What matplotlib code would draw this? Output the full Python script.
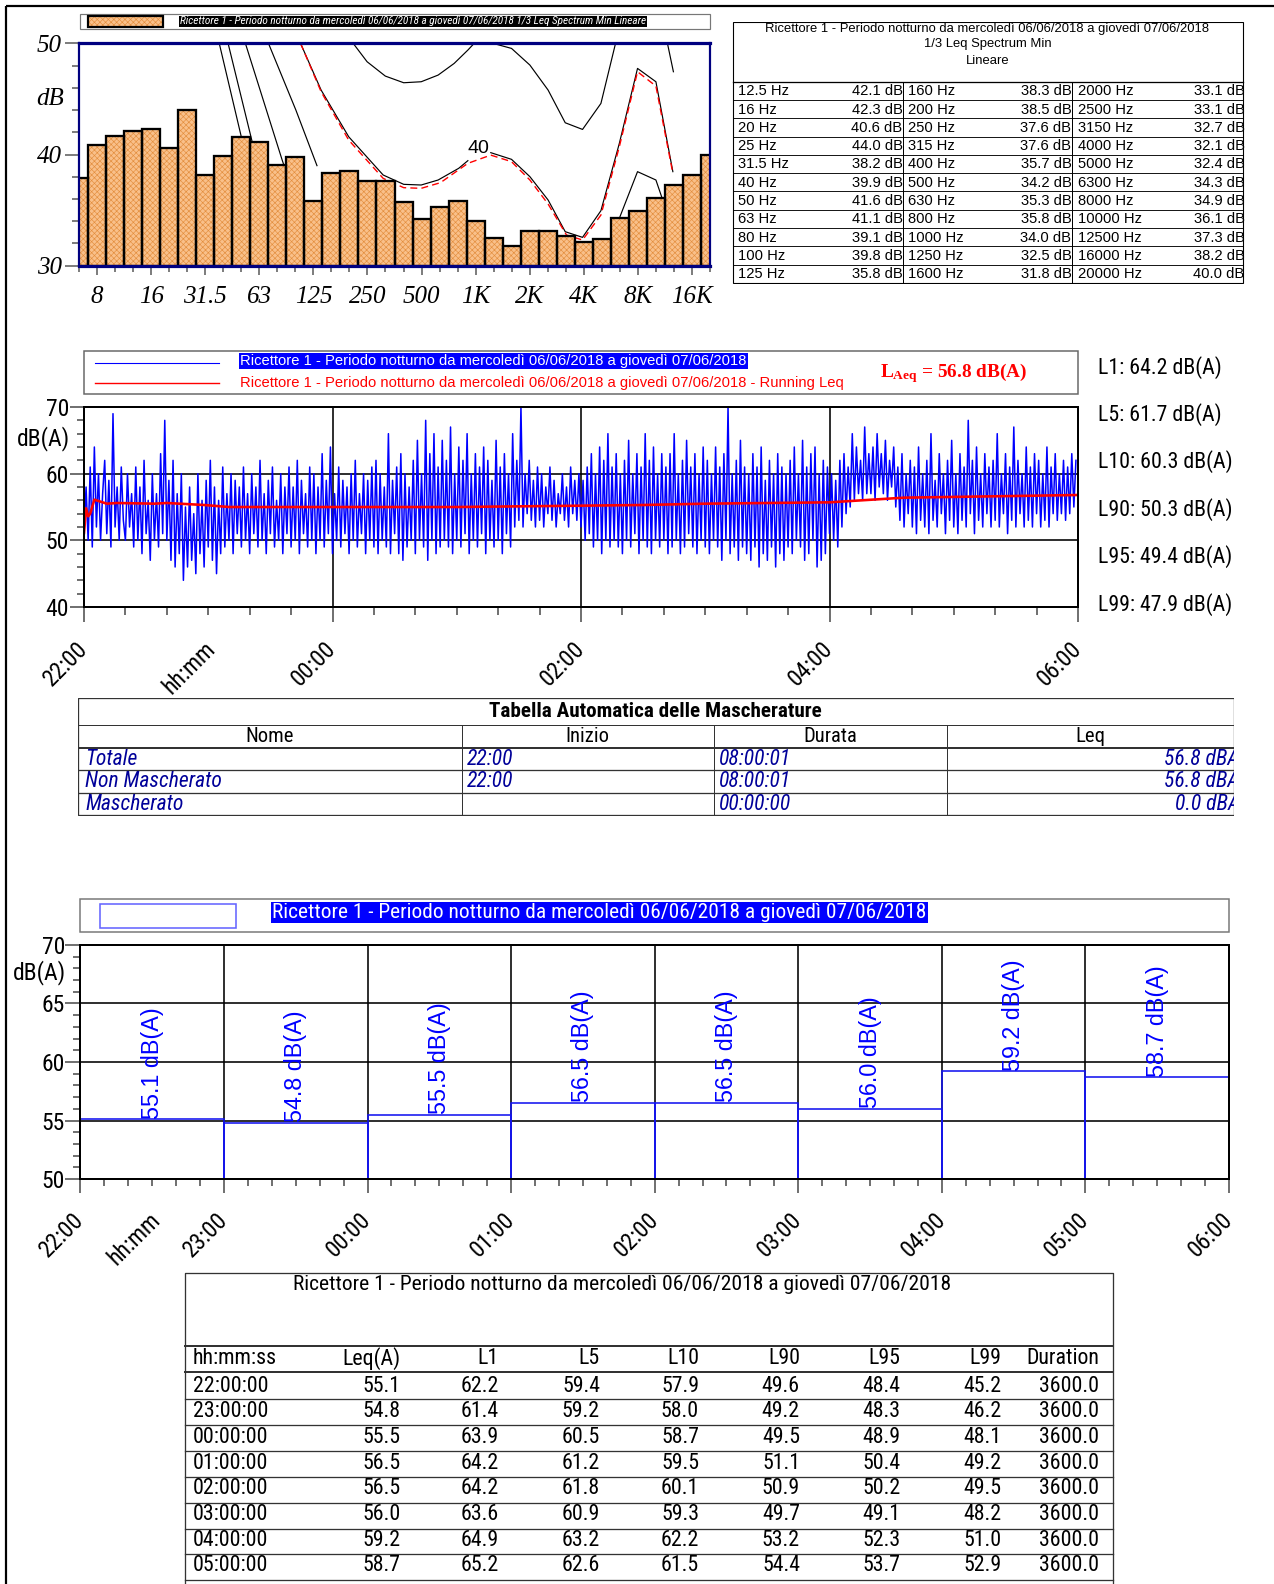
import os
import numpy as np
import matplotlib
matplotlib.use('Agg')
import matplotlib.pyplot as plt
from matplotlib import font_manager
from matplotlib.font_manager import FontProperties
from matplotlib.patches import Rectangle

# ---------------------------------------------------------------- data
title = 'Ricettore 1 - Periodo notturno da mercoledì 06/06/2018 a giovedì 07/06/2018'

spec_bands = ['6.3', '8', '10', '12.5', '16', '20', '25', '31.5', '40', '50', '63', '80',
              '100', '125', '160', '200', '250', '315', '400', '500', '630', '800', '1000',
              '1250', '1600', '2000', '2500', '3150', '4000', '5000', '6300', '8000',
              '10000', '12500', '16000', '20000']
spec_levels = [37.9, 40.9, 41.7, 42.1, 42.3, 40.6, 44.0, 38.2, 39.9, 41.6, 41.1, 39.1,
               39.8, 35.8, 38.3, 38.5, 37.6, 37.6, 35.7, 34.2, 35.3, 35.8, 34.0,
               32.5, 31.8, 33.1, 33.1, 32.7, 32.1, 32.4, 34.3, 34.9,
               36.1, 37.3, 38.2, 40.0]
spec_tick_bands = ['8', '16', '31.5', '63', '125', '250', '500', '1000', '2000', '4000', '8000', '16000']
spec_tick_labels = ['8', '16', '31.5', '63', '125', '250', '500', '1K', '2K', '4K', '8K', '16K']

# equal-loudness style curves (x in band index units, y in dB)
curve_a_x = [7.78, 8.98, 9.6];   curve_a_y = [50, 41.75, 37]
curve_b_x = [8.27, 9.56, 10.2];  curve_b_y = [50, 41.45, 37]
curve_c_x = [9.23, 11.27, 12.0]; curve_c_y = [50, 39.5, 36]
curve_d_x = [10.51, 12.03, 13.2]; curve_d_y = [50, 44.0, 39.0]
curve40_x = [12.29, 13.43, 14.96, 16.87, 18.01, 18.98, 19.92, 21.06, 21.57, np.nan,
             22.84, 23.99, 25.01, 26.02, 26.97, 27.93, 28.95, 29.97, 30.98, 32.00, 32.94]
curve40_y = [50, 45.80, 41.60, 38.16, 37.32, 37.26, 37.71, 38.76, 39.45, np.nan,
             40.17, 39.57, 38.01, 35.91, 33.06, 32.55, 34.95, 41.00, 47.75, 46.55, 38.46]
curve50_x = [15.21, 15.98, 16.99, 18.01, 18.98, 19.92, 20.81, 21.57, 21.83, np.nan,
             22.97, 23.99, 25.01, 26.02, 26.97, 27.93, 28.95, 29.76, np.nan, 32.64, 32.97]
curve50_y = [50, 48.35, 47.06, 46.46, 46.55, 47.15, 48.20, 49.40, 49.85, np.nan,
             50, 49.55, 48.05, 45.80, 42.86, 42.26, 44.60, 50, np.nan, 50, 47.45]
curve30_x = [29.3, 29.97, 30.98, 32.0, 32.38]
curve30_y = [31.5, 34.26, 38.46, 37.71, 35.9]
curve_red_x = [12.29, 13.43, 14.96, 16.87, 18.01, 18.98, 20.05, 21.57, 22.84, 23.99, 25.01,
               26.02, 27.04, 27.93, 28.95, 29.97, 30.98, 32.00, 32.94]
curve_red_y = [50, 45.65, 41.30, 37.86, 37.02, 36.96, 37.47, 39.21, 39.95, 39.36, 37.71,
               35.55, 32.76, 32.31, 34.56, 40.7, 47.45, 46.16, 38.31]

# time history, one value per minute from 22:00
th_levels = [
    51, 58, 50, 61, 49, 64, 52, 60, 50, 57, 62, 51, 59, 49, 69, 52, 58, 50, 61, 53,
    50, 60, 52, 57, 49, 61, 50, 58, 48, 62, 51, 56, 47, 60, 50, 57, 49, 63, 51, 68,
    50, 59, 47, 62, 46, 57, 48, 60, 44, 55, 46, 58, 47, 54, 45, 60, 48, 56, 46, 59,
    49, 62, 47, 58, 45, 56, 48, 61, 49, 57, 50, 60, 48, 59, 51, 58, 49, 61, 50, 57,
    48, 60, 51, 58, 49, 62, 50, 57, 48, 59, 51, 61, 49, 56, 50, 60, 48, 58, 51, 61,
    49, 58, 50, 62, 48, 59, 51, 57, 49, 61, 50, 60, 48, 58, 50, 63, 49, 59, 51, 64,
    48, 57, 50, 61, 49, 59, 51, 58, 48, 60, 50, 62, 49, 57, 51, 60, 48, 59, 50, 61,
    49, 62, 48, 60, 50, 58, 49, 66, 48, 59, 51, 61, 48, 63, 47, 60, 49, 58, 50, 62,
    48, 65, 50, 60, 49, 68, 47, 63, 50, 66, 48, 61, 49, 65, 50, 62, 49, 67, 48, 60,
    50, 64, 49, 62, 51, 66, 48, 60, 50, 63, 49, 61, 51, 64, 48, 62, 50, 59, 49, 65,
    50, 61, 48, 63, 51, 60, 49, 66, 52, 62, 53, 70, 52, 60, 54, 62, 53, 59, 52, 61,
    53, 60, 52, 58, 54, 61, 53, 59, 52, 57, 54, 60, 53, 58, 52, 61, 54, 59, 53, 60,
    52, 59, 50, 61, 51, 63, 49, 60, 50, 64, 48, 62, 50, 66, 49, 61, 50, 63, 49, 60,
    48, 62, 50, 65, 49, 60, 51, 63, 48, 61, 50, 66, 49, 62, 48, 64, 50, 60, 49, 63,
    50, 61, 48, 63, 49, 66, 50, 60, 48, 62, 49, 65, 51, 61, 49, 63, 48, 60, 50, 64,
    49, 62, 48, 60, 50, 64, 49, 61, 47, 63, 50, 70, 48, 60, 49, 62, 47, 65, 49, 61,
    48, 60, 47, 63, 49, 61, 46, 64, 48, 59, 47, 62, 49, 60, 46, 63, 48, 61, 47, 60,
    49, 62, 48, 64, 50, 60, 49, 65, 47, 61, 48, 63, 50, 64, 46, 60, 47, 62, 48, 61,
    51, 60, 50, 59, 49, 62, 52, 63, 54, 61, 55, 66, 56, 64, 57, 62, 56, 67, 57, 63,
    57, 64, 56, 66, 58, 63, 57, 65, 56, 62, 58, 64, 55, 61, 53, 63, 52, 60, 54, 62,
    52, 61, 51, 64, 53, 60, 52, 62, 51, 66, 53, 59, 52, 63, 54, 60, 51, 62, 53, 65,
    52, 60, 51, 63, 53, 61, 52, 68, 54, 62, 51, 64, 53, 60, 52, 63, 54, 61, 52, 62,
    53, 66, 52, 60, 54, 63, 51, 61, 53, 67, 52, 62, 54, 60, 52, 64, 53, 61, 52, 63,
    54, 62, 52, 60, 53, 64, 52, 61, 54, 63, 53, 60, 54, 62, 53, 61, 54, 63, 55, 62,
]
running_leq_min = [0, 1, 2, 3, 5, 11, 16, 34, 40, 58, 70, 180, 210, 270, 300, 360, 396, 480]
running_leq_val = [51.1, 54.8, 53.6, 54.0, 56.1, 55.5, 55.6, 55.5, 55.6, 55.3, 55.0, 55.0,
                   55.1, 55.3, 55.5, 55.7, 56.4, 56.8]
laeq_total = 56.8
stat_names = ['L1', 'L5', 'L10', 'L90', 'L95', 'L99']
stat_values = [64.2, 61.7, 60.3, 50.3, 49.4, 47.9]

mask_names = ['Totale', 'Non Mascherato', 'Mascherato']
mask_start = ['22:00', '22:00', '']
mask_dur = ['08:00:01', '08:00:01', '00:00:00']
mask_leq = [56.8, 56.8, 0.0]

hour_labels = ['22:00', '23:00', '00:00', '01:00', '02:00', '03:00', '04:00', '05:00', '06:00']
row_times = ['22:00:00', '23:00:00', '00:00:00', '01:00:00', '02:00:00', '03:00:00', '04:00:00', '05:00:00']
hourly_leq = [55.1, 54.8, 55.5, 56.5, 56.5, 56.0, 59.2, 58.7]
hourly_L1 = [62.2, 61.4, 63.9, 64.2, 64.2, 63.6, 64.9, 65.2]
hourly_L5 = [59.4, 59.2, 60.5, 61.2, 61.8, 60.9, 63.2, 62.6]
hourly_L10 = [57.9, 58.0, 58.7, 59.5, 60.1, 59.3, 62.2, 61.5]
hourly_L90 = [49.6, 49.2, 49.5, 51.1, 50.9, 49.7, 53.2, 54.4]
hourly_L95 = [48.4, 48.3, 48.9, 50.4, 50.2, 49.1, 52.3, 53.7]
hourly_L99 = [45.2, 46.2, 48.1, 49.2, 49.5, 48.2, 51.0, 52.9]
hourly_dur = [3600.0, 3600.0, 3600.0, 3600.0, 3600.0, 3600.0, 3600.0, 3600.0]
table_headers = ['hh:mm:ss', 'Leq(A)', 'L1', 'L5', 'L10', 'L90', 'L95', 'L99', 'Duration']

# ---------------------------------------------------------------- fonts
SANS = 'Liberation Sans'
SERIF = 'Liberation Serif'
plt.rcParams['font.family'] = [SANS, 'DejaVu Sans']
plt.rcParams['mathtext.fontset'] = 'custom'
plt.rcParams['mathtext.rm'] = 'Liberation Serif:bold'
plt.rcParams['mathtext.it'] = 'Liberation Serif:italic:bold'
plt.rcParams['hatch.linewidth'] = 0.45


def _weight(fe):
    w = fe.weight
    if isinstance(w, str):
        w = font_manager.weight_dict.get(w, 400)
    return int(w)


def _is_cond(fe):
    txt = (fe.name + ' ' + os.path.basename(fe.fname) + ' ' + str(fe.stretch)).lower()
    if any(b in txt for b in ('extra', 'ultra', 'mono', 'cjk', 'semi')):
        return False
    return ('narrow' in txt) or ('condensed' in txt) or ('cond' in os.path.basename(fe.fname).lower())


def _rank(fe):
    t = (fe.name + ' ' + os.path.basename(fe.fname)).lower()
    if 'liberation sans narrow' in t or 'liberationsansnarrow' in t:
        return 0
    if 'roboto' in t:
        return 1
    if 'noto' in t and 'sans' in t:
        return 2
    if 'dejavu' in t and 'sans' in t:
        return 3
    if 'open' in t:
        return 4
    return 5


_cands = [fe for fe in font_manager.fontManager.ttflist if _is_cond(fe)]


def pick(kind):
    best = None
    for fe in _cands:
        w = _weight(fe)
        ital = fe.style in ('italic', 'oblique')
        if kind == 'regular' and not (350 <= w <= 500 and not ital):
            continue
        if kind == 'bold' and not (w >= 600 and not ital):
            continue
        if kind == 'italic' and not (350 <= w <= 500 and ital):
            continue
        key = (_rank(fe), abs(w - (700 if kind == 'bold' else 400)))
        if best is None or key < best[0]:
            best = (key, fe)
    if best is not None:
        return FontProperties(fname=best[1].fname)
    base = FontProperties(family=SANS)
    if kind == 'bold':
        base.set_weight('bold')
    if kind == 'italic':
        base.set_style('italic')
    return base


NR = pick('regular')
NB = pick('bold')
NI = pick('italic')
REG = FontProperties(family=SANS)
SER_I = FontProperties(family=SERIF, style='italic')
SER_B = FontProperties(family=SERIF, weight='bold')

W, H = 1274, 1584
P = 0.72  # points per pixel
fig = plt.figure(figsize=(W / 100, H / 100), dpi=100)
R = fig.canvas.get_renderer()


def fp(base, size):
    p = base.copy()
    p.set_size(size)
    return p


def rect(x0, y0, x1, y1):
    return [x0 / W, 1 - y1 / H, (x1 - x0) / W, (y1 - y0) / H]


def pix_axes(x0, y0, x1, y1):
    a = fig.add_axes(rect(x0, y0, x1, y1))
    a.set_xlim(x0, x1)
    a.set_ylim(y1, y0)
    a.axis('off')
    return a


def fit_size(s, width, base):
    t = fig.text(0, 0, s, fontproperties=fp(base, 10))
    w = t.get_window_extent(renderer=R).width
    t.remove()
    return 10 * width / w


def style_ticks(labels, prop):
    for lb in labels:
        lb.set_fontproperties(prop)


ov = pix_axes(0, 0, W, H)
# page border
ov.plot([6, 6], [6, H], color='black', lw=2.2 * P, solid_capstyle='butt')
ov.plot([6, W], [6, 6], color='black', lw=2.2 * P, solid_capstyle='butt')

# ---------------------------------------------------------------- spectrum
ORANGE = '#F9C08A'
HATCH = '#E38E3E'
NAVY = '#000080'
ov.add_patch(Rectangle((80, 14), 630, 15, fill=False, ec='#777777', lw=1.2 * P))
ov.add_patch(Rectangle((88, 16), 75, 11, fc=ORANGE, ec=HATCH, hatch='xxxxxx', lw=0))
ov.add_patch(Rectangle((88, 16), 75, 11, fill=False, ec='black', lw=2.2 * P))
s_leg = title + ' 1/3 Leq Spectrum Min Lineare'
fs = fit_size(s_leg, 466, NI)
ov.text(180, 21.5, s_leg, fontproperties=fp(NI, fs), color='white',
        va='center', ha='left', bbox=dict(fc='black', ec='none', pad=0.6))

axs = fig.add_axes(rect(79, 43.4, 710, 265.7))
pos = np.arange(len(spec_levels))
lv = np.array(spec_levels)
for xs, ys in [(curve_a_x, curve_a_y), (curve_b_x, curve_b_y), (curve_c_x, curve_c_y),
               (curve_d_x, curve_d_y), (curve40_x, curve40_y), (curve50_x, curve50_y),
               (curve30_x, curve30_y)]:
    axs.plot(xs, ys, color='black', lw=0.85, zorder=1)
axs.plot(curve_red_x, curve_red_y, color='red', lw=1.0, ls=(0, (5, 3)), zorder=1.5)
axs.text(22.15, 40.5, '40', fontproperties=fp(REG, 14), ha='center', va='center', zorder=2)
axs.bar(pos, lv - 30, bottom=30, width=1, color=ORANGE, ec=HATCH, hatch='xxxxxx', lw=0, zorder=3)
axs.bar(pos, lv - 30, bottom=30, width=1, fill=False, ec='black', lw=2.3 * P, zorder=4)
axs.set_xlim(0, len(spec_levels) - 1)
axs.set_ylim(30, 50)
axs.set_xticks([spec_bands.index(b) for b in spec_tick_bands])
axs.set_xticklabels(spec_tick_labels)
style_ticks(axs.get_xticklabels(), fp(SER_I, 18))
axs.set_xticks(pos, minor=True)
axs.set_yticks([30, 40, 50])
axs.set_yticklabels(['30', '40', '50'])
style_ticks(axs.get_yticklabels(), fp(SER_I, 18))
axs.set_yticks(np.arange(30, 51, 2), minor=True)
axs.tick_params(which='both', direction='out', color='#555555', width=1.5 * P)
axs.tick_params(axis='y', which='major', length=14 * P, pad=3 * P)
axs.tick_params(axis='y', which='minor', length=7 * P)
axs.tick_params(axis='x', which='major', length=9 * P, pad=11 * P)
axs.tick_params(axis='x', which='minor', length=6 * P)
for k, sp in axs.spines.items():
    sp.set_color(NAVY)
    sp.set_zorder(6)
    sp.set_linewidth((3.2 if k in ('top', 'bottom') else 2.2) * P)
ov.text(64, 99, 'dB', fontproperties=fp(SER_I, 18), ha='right', va='center')

# ---------------------------------------------------------------- spectrum table
tb = pix_axes(732, 21.8, 1248, 284)
TL, TR, TT, TB = 732.5, 1242.5, 21.8, 283
tb.add_patch(Rectangle((TL, TT), TR - TL, TB - TT, fill=False, ec='black', lw=1.1 * P))
fs_h = fit_size(title, 447, REG)
for yy, s in [(28.8, title), (44.0, '1/3 Leq Spectrum Min'), (60.5, 'Lineare')]:
    tb.text((TL + TR) / 2, yy, s, fontproperties=fp(REG, fs_h), ha='center', va='center')
row_top = 81.6
rh = (TB - row_top) / 11
for k in range(11):
    tb.plot([TL, TR], [row_top + k * rh] * 2, color='black', lw=(1.3 if k == 0 else 0.9) * P)
for xv in (903, 1072):
    tb.plot([xv, xv], [row_top, TB], color='black', lw=1.0 * P)
fs_r = fit_size('42.1 dB', 50.7, REG)
lx = [738.5, 907.5, 1077.5]
rx = [902.5, 1071.5, 1244.5]
for c in range(3):
    for r in range(11):
        i = 3 + c * 11 + r
        yc = row_top + (r + 0.5) * rh + 0.5
        tb.text(lx[c], yc, spec_bands[i] + ' Hz', fontproperties=fp(REG, fs_r), ha='left', va='center')
        tb.text(rx[c], yc, f'{spec_levels[i]:.1f} dB', fontproperties=fp(REG, fs_r), ha='right', va='center')

# ---------------------------------------------------------------- time history
BLUE = '#0000FF'
ov.add_patch(Rectangle((84, 351), 994, 42.5, fill=False, ec='#666666', lw=1.5 * P))
ov.plot([95, 219], [362.7, 362.7], color=BLUE, lw=1.1 * P)
ov.plot([95, 219], [383.3, 383.3], color='red', lw=1.4 * P)
fs_l = fit_size(title, 505, REG)
ov.text(240, 361, title, fontproperties=fp(REG, fs_l), color='white', ha='left', va='center',
        bbox=dict(fc=BLUE, ec='none', pad=0.8))
ov.text(240, 383, title + ' - Running Leq', fontproperties=fp(REG, fs_l), color='red',
        ha='left', va='center')
s_laeq = r'$\mathrm{L_{Aeq}}$' + f' = {laeq_total:.1f} dB(A)'
fs_q = fit_size(s_laeq, 148, SER_B)
ov.text(880, 373, s_laeq, fontproperties=fp(SER_B, fs_q), color='red', ha='left', va='center')
stat_y = [368, 415, 462, 510, 557, 605]
fs_s = min(fit_size('L1: 64.2 dB(A)', 123, NR), 19)
for nm, v, yy in zip(stat_names, stat_values, stat_y):
    ov.text(1098, yy, f'{nm}: {v:.1f} dB(A)', fontproperties=fp(NR, fs_s), ha='left', va='center')

TICK = fp(NR, 17)
axt = fig.add_axes(rect(84, 407, 1078, 607))
tmin = np.arange(len(th_levels))
axt.plot(tmin, th_levels, color=BLUE, lw=1.1, zorder=3)
axt.plot(running_leq_min, running_leq_val, color='red', lw=2.6 * P, zorder=4)
for yv in (50, 60):
    axt.axhline(yv, color='black', lw=1.6 * P, zorder=2)
for xv in (120, 240, 360):
    axt.axvline(xv, color='black', lw=1.6 * P, zorder=2)
axt.set_xlim(0, 480)
axt.set_ylim(40, 70)
axt.set_xticks([0, 62, 120, 240, 360, 480])
axt.set_xticklabels([hour_labels[0], 'hh:mm', hour_labels[2], hour_labels[4], hour_labels[6], hour_labels[8]],
                    rotation=45, ha='right', va='center', rotation_mode='anchor')
style_ticks(axt.get_xticklabels(), TICK)
axt.xaxis.get_major_ticks()[1].tick1line.set_visible(False)
axt.set_xticks(np.arange(0, 481, 20), minor=True)
axt.set_yticks([40, 50, 60, 70])
axt.set_yticklabels(['40', '50', '60', '70'])
style_ticks(axt.get_yticklabels(), TICK)
axt.set_yticks(np.arange(40, 71, 2), minor=True)
axt.tick_params(which='both', direction='out', color='#444444', width=1.5 * P)
axt.tick_params(axis='x', which='major', length=15 * P, pad=23 * P)
axt.tick_params(axis='x', which='minor', length=8 * P)
axt.tick_params(axis='y', which='major', length=14 * P, pad=1 * P)
axt.tick_params(axis='y', which='minor', length=7 * P)
for sp in axt.spines.values():
    sp.set_linewidth(2 * P)
    sp.set_zorder(6)
ov.text(70, 439, 'dB(A)', fontproperties=TICK, ha='right', va='center')

# ---------------------------------------------------------------- masking table
TMX0, TMX1, TMY0, TMY1 = 77.5, 1233.5, 697.7, 815
axm = pix_axes(TMX0, TMY0, TMX1, TMY1 + 1)
axm.add_patch(Rectangle((TMX0 + 0.5, TMY0), TMX1 - TMX0, TMY1 - TMY0, fill=False, ec='#333333', lw=1.3 * P))
for yv, lw in [(725, 1.0), (748.3, 2.0), (770.5, 1.3), (793, 1.3)]:
    axm.plot([TMX0, TMX1], [yv, yv], color='#333333', lw=lw * P)
colx = [TMX0, 462, 713.5, 946.5, TMX1]
for xv in colx[1:4]:
    axm.plot([xv, xv], [725, TMY1], color='#333333', lw=1.0 * P)
fs_mt = fit_size('Tabella Automatica delle Mascherature', 333, NB)
axm.text((TMX0 + TMX1) / 2, 711.5, 'Tabella Automatica delle Mascherature',
         fontproperties=fp(NB, fs_mt), ha='center', va='center')
fs_mh = fit_size('Durata', 54, NR)
for j, hdr in enumerate(['Nome', 'Inizio', 'Durata', 'Leq']):
    axm.text((colx[j] + colx[j + 1]) / 2, 737, hdr, fontproperties=fp(NR, fs_mh), ha='center', va='center')
fs_mr = fit_size('Non Mascherato', 137, NI)
MC = '#000099'
for r in range(3):
    yc = 759.5 + r * 22.3
    kw = dict(fontproperties=fp(NI, fs_mr), color=MC, va='center', clip_on=True)
    axm.text(85, yc, mask_names[r], ha='left', **kw)
    axm.text(467, yc, mask_start[r], ha='left', **kw)
    axm.text(719, yc, mask_dur[r], ha='left', **kw)
    axm.text(1240, yc, f'{mask_leq[r]:.1f} dBA', ha='right', **kw)

# ---------------------------------------------------------------- hourly Leq chart
ov.add_patch(Rectangle((80.4, 899), 1148.6, 33, fill=False, ec='#777777', lw=1.5 * P))
ov.add_patch(Rectangle((100, 904), 136, 24, fill=False, ec='#6666FF', lw=1.6 * P))
fs_b = fit_size(title, 650, NR)
ov.text(272, 912.5, title, fontproperties=fp(NR, fs_b), color='white', ha='left', va='center',
        bbox=dict(fc=BLUE, ec='none', pad=1.0))

axb = fig.add_axes(rect(80.4, 945, 1229, 1179))
hx = np.arange(len(hourly_leq)) * 60
for yv in (55, 60, 65):
    axb.axhline(yv, color='black', lw=1.6 * P, zorder=2)
for xv in hx[1:]:
    axb.axvline(xv, color='black', lw=1.6 * P, zorder=2)
axb.bar(hx, np.array(hourly_leq) - 50, bottom=50, width=60, align='edge', fill=False,
        ec='#1515F0', lw=1.6 * P, zorder=3)
fs_v = fit_size('55.1 dB(A)', 112, REG)
for xv, v in zip(hx, hourly_leq):
    axb.text(xv + 30, v + 0.05, f'{v:.1f} dB(A)', rotation=90, fontproperties=fp(REG, fs_v),
             color=BLUE, ha='center', va='bottom', zorder=4)
axb.set_xlim(0, 480)
axb.set_ylim(50, 70)
axb.set_xticks([0, 32] + list(range(60, 481, 60)))
axb.set_xticklabels([hour_labels[0], 'hh:mm'] + hour_labels[1:],
                    rotation=45, ha='right', va='center', rotation_mode='anchor')
style_ticks(axb.get_xticklabels(), TICK)
axb.xaxis.get_major_ticks()[1].tick1line.set_visible(False)
axb.set_xticks(np.arange(0, 481, 10), minor=True)
axb.set_yticks([50, 55, 60, 65, 70])
axb.set_yticklabels(['50', '55', '60', '65', '70'])
style_ticks(axb.get_yticklabels(), TICK)
axb.set_yticks(np.arange(50, 71, 1), minor=True)
axb.tick_params(which='both', direction='out', color='#444444', width=1.5 * P)
axb.tick_params(axis='x', which='major', length=14 * P, pad=23 * P)
axb.tick_params(axis='x', which='minor', length=7 * P)
axb.tick_params(axis='y', which='major', length=15 * P, pad=0.5 * P)
axb.tick_params(axis='y', which='minor', length=7 * P)
for sp in axb.spines.values():
    sp.set_linewidth(2 * P)
    sp.set_zorder(6)
ov.text(66, 973, 'dB(A)', fontproperties=TICK, ha='right', va='center')

# ---------------------------------------------------------------- hourly table
BX0, BX1, BY0 = 184.7, 1113, 1273
axT = pix_axes(BX0 - 2, BY0 - 2, BX1 + 2, H)
axT.plot([BX0, BX0, BX1, BX1], [H, BY0, BY0, H], color='#333333', lw=1.3 * P)
fs_tt = fit_size(title, 652, NR)
axT.text(622, 1285, title, fontproperties=fp(NR, fs_tt), ha='center', va='center')
for yv, lw in [(1345.7, 2.0), (1372, 2.0), (1399, 1.3), (1425, 1.3), (1450.7, 1.3), (1476.7, 1.3),
               (1503, 1.3), (1529, 1.3), (1554.3, 1.3), (1580, 1.3)]:
    axT.plot([BX0, BX1], [yv, yv], color='#333333', lw=lw * P)
fs_t = min(fit_size('3600.0', 59, NR), 18)
TT_FP = fp(NR, fs_t)
col_right = [400.6, 499, 600, 699, 800, 900.6, 1001.5, 1099]
axT.text(193, 1359, table_headers[0], fontproperties=TT_FP, ha='left', va='center')
for xr, hd in zip(col_right, table_headers[1:]):
    axT.text(xr, 1359, hd, fontproperties=TT_FP, ha='right', va='center')
cols = [hourly_leq, hourly_L1, hourly_L5, hourly_L10, hourly_L90, hourly_L95, hourly_L99, hourly_dur]
for r in range(len(row_times)):
    yc = 1386 + r * 25.7
    axT.text(193, yc, row_times[r], fontproperties=TT_FP, ha='left', va='center')
    for xr, col in zip(col_right, cols):
        axT.text(xr, yc, f'{col[r]:.1f}', fontproperties=TT_FP, ha='right', va='center')

fig.savefig('out.png', dpi=100)
